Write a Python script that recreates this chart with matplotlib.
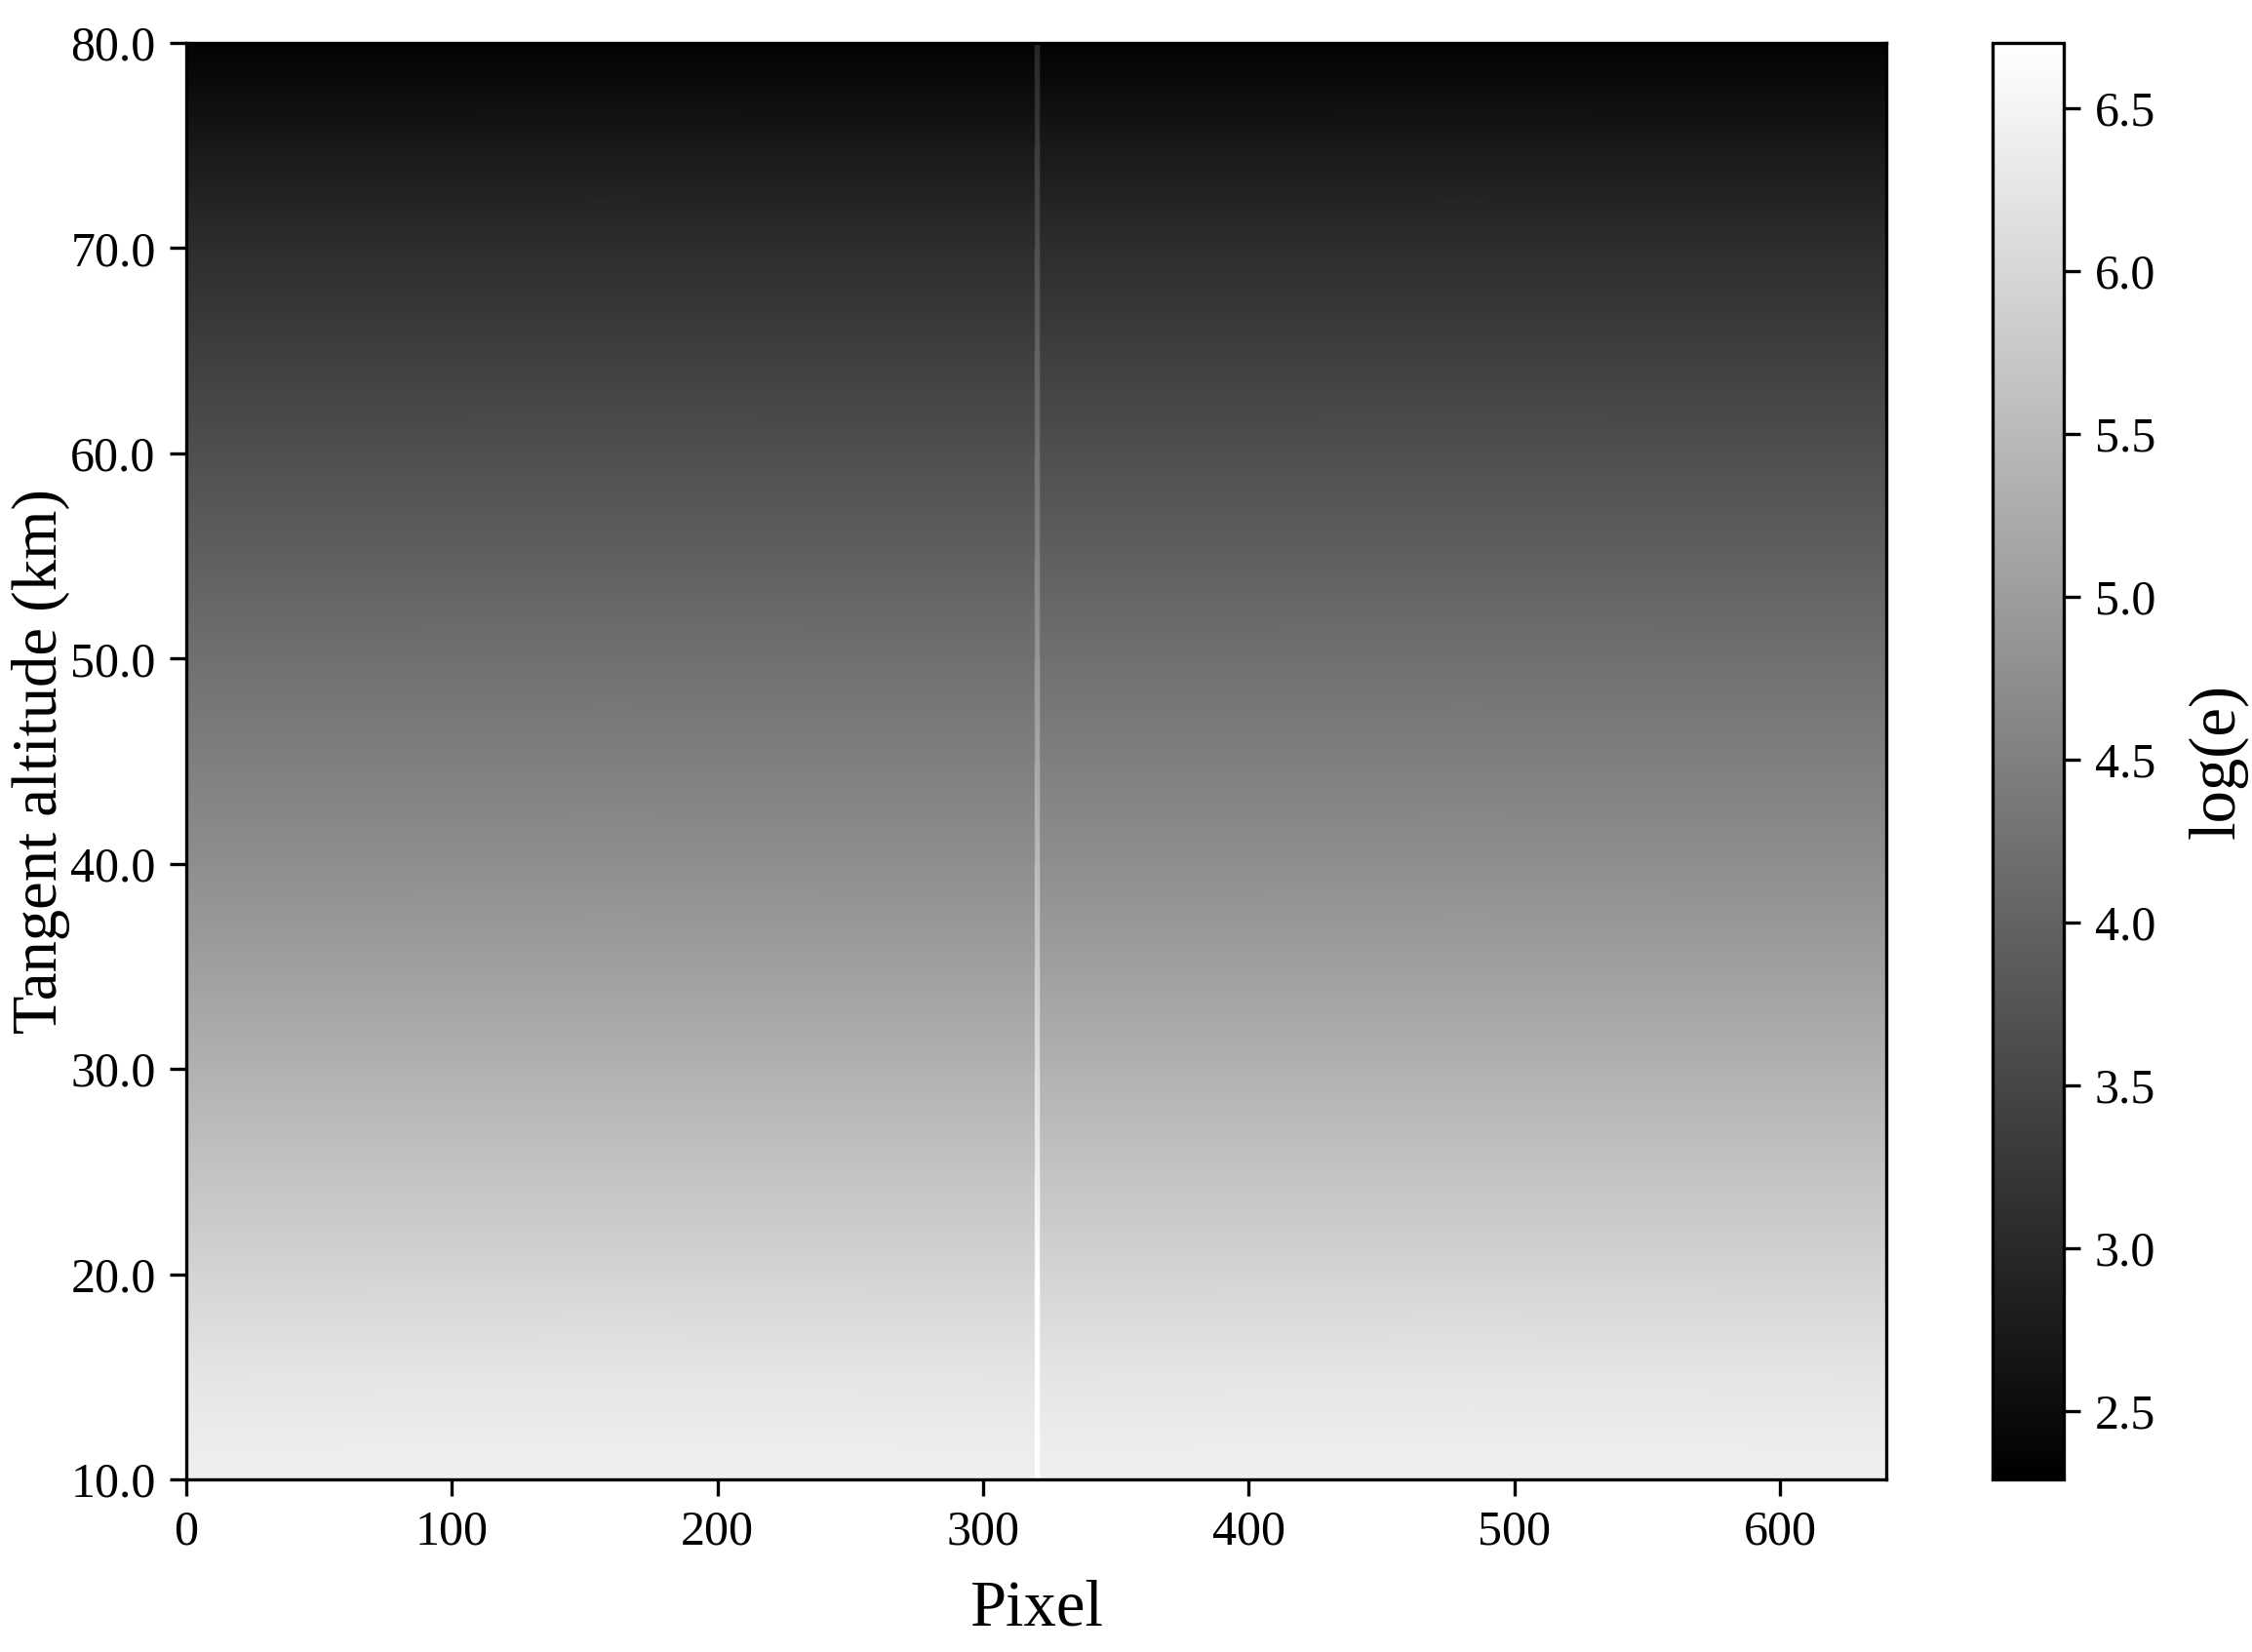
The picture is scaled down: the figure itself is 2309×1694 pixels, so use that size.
import numpy as np
import matplotlib
matplotlib.use('Agg')
import matplotlib.pyplot as plt

plt.rcParams['font.family'] = ['Liberation Serif', 'DejaVu Serif']

# 切线高度 (km) 及对应的背景 log(e) 值
altitude = [10, 12, 15, 20, 25, 30, 35, 40, 45, 50, 55, 60, 65, 70, 75, 80]
background = [6.42, 6.36, 6.24, 5.95, 5.65, 5.34, 5.04, 4.75, 4.48, 4.22, 3.94, 3.66, 3.37, 3.07, 2.72, 2.33]
# 中心列 (约 320 像素) 更亮
stripe = [6.70, 6.70, 6.70, 6.68, 6.40, 6.12, 5.82, 5.50, 5.18, 4.88, 4.58, 4.28, 3.98, 3.66, 3.32, 2.95]

# 列节点: 左边界, 亮列左右, 右边界
x_nodes = [0, 319.4, 319.6, 321.4, 321.6, 640]

x_ticks = [0, 100, 200, 300, 400, 500, 600]
y_ticks = [10, 20, 30, 40, 50, 60, 70, 80]
cbar_ticks = [2.5, 3.0, 3.5, 4.0, 4.5, 5.0, 5.5, 6.0, 6.5]
vmin, vmax = 2.29, 6.70

bg = np.array(background)
st = np.array(stripe)
Z = np.column_stack([bg, bg, st, st, bg, bg])
X, Y = np.meshgrid(x_nodes, altitude)

fig = plt.figure(figsize=(2309 / 300, 1694 / 300), dpi=300)
ax = fig.add_axes([0.0827, 0.1045, 0.7549, 0.8695])
cax = fig.add_axes([0.885, 0.1045, 0.0316, 0.8695])

mesh = ax.pcolormesh(X, Y, Z, shading='gouraud', cmap='gray', vmin=vmin, vmax=vmax)
ax.set_xlim(0, 640)
ax.set_ylim(10, 80)
ax.set_xticks(x_ticks)
ax.set_yticks(y_ticks)
ax.set_yticklabels([f'{v:.1f}' for v in y_ticks])
ax.tick_params(labelsize=12, width=0.8, length=4)
ax.set_xlabel('Pixel', fontsize=16, labelpad=6)
ax.set_ylabel('Tangent altitude (km)', fontsize=15.5, labelpad=0)
for s in ax.spines.values():
    s.set_linewidth(0.8)

cb = fig.colorbar(mesh, cax=cax)
cb.set_ticks(cbar_ticks)
cb.set_ticklabels([f'{v:.1f}' for v in cbar_ticks])
cb.ax.tick_params(labelsize=12, width=0.8, length=4)
cb.outline.set_linewidth(0.8)
cb.set_label('log(e)', fontsize=16, labelpad=8)

fig.savefig('out.png', dpi=300)
